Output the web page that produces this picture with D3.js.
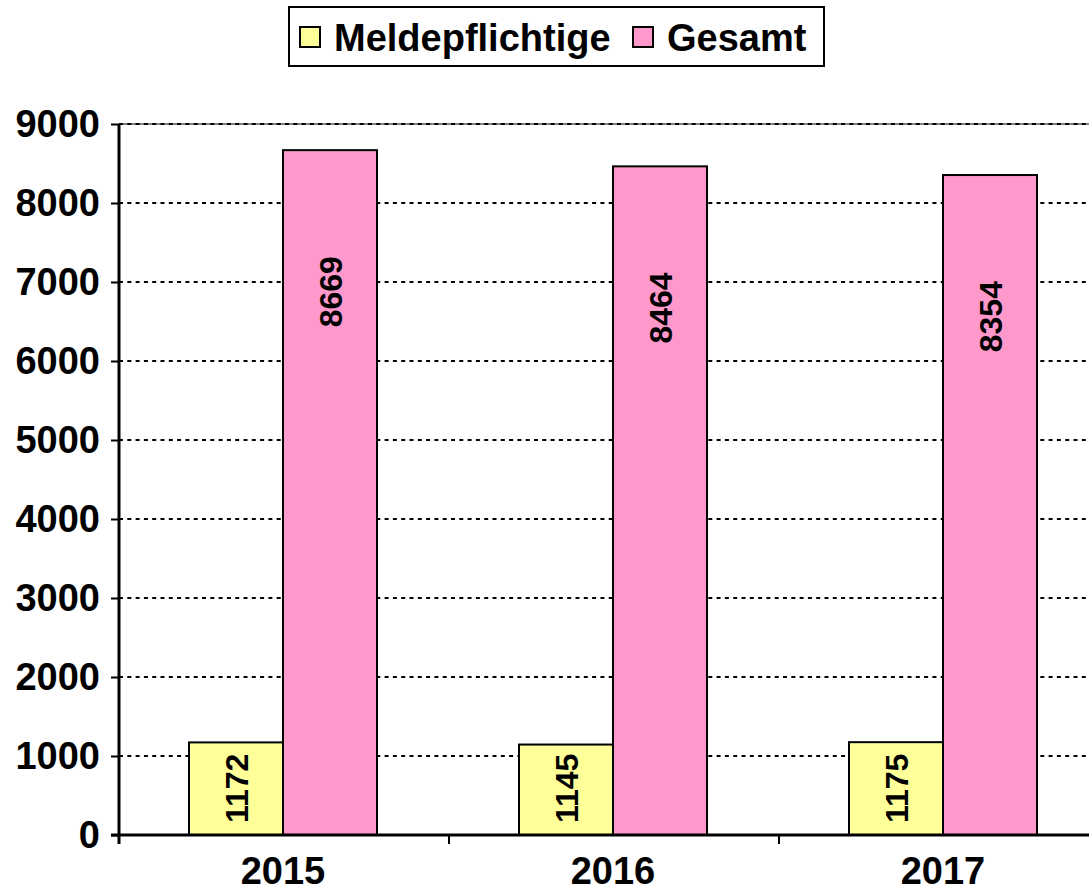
<!DOCTYPE html>
<html>
<head>
<meta charset="utf-8">
<script src="https://cdn.jsdelivr.net/npm/d3@7"></script>
<style>
  body { margin: 0; background: #fff; }
  text { font-family: "Liberation Sans", Arial, sans-serif; font-weight: bold; fill: #000; }
</style>
</head>
<body>
<div class="chart"></div>
<script>
const years = ['2015', '2016', '2017'];
const seriesNames = ['Meldepflichtige', 'Gesamt'];
const meldepflichtige = [1172, 1145, 1175];
const gesamt = [8669, 8464, 8354];
const yTicks = [0, 1000, 2000, 3000, 4000, 5000, 6000, 7000, 8000, 9000];
const colors = ['#FFFF99', '#FF99CC'];

const width = 1089, height = 895;
const margin = { top: 124, right: -20, bottom: 60, left: 119 };

const svg = d3.select('.chart')
  .append('svg')
  .attr('width', width)
  .attr('height', height);

const x0 = d3.scaleBand()
  .domain(years)
  .range([margin.left, width - margin.right]);

const x1 = d3.scaleBand()
  .domain(seriesNames)
  .range([70, x0.bandwidth() - 72]);

const y = d3.scaleLinear()
  .domain([0, 9000])
  .range([height - margin.bottom, margin.top]);

// gridlines
const grid = svg.append('g');
grid.append('line')
  .attr('x1', margin.left).attr('x2', width)
  .attr('y1', y(9000)).attr('y2', y(9000))
  .attr('stroke', '#808080').attr('stroke-width', 2);
grid.selectAll('line.g')
  .data(yTicks.filter(d => d > 0))
  .join('line')
  .attr('class', 'g')
  .attr('x1', margin.left).attr('x2', width)
  .attr('y1', d => y(d)).attr('y2', d => y(d))
  .attr('stroke', '#000')
  .attr('stroke-width', 2)
  .attr('stroke-dasharray', '4,4.3');

// bars
const rows = years.map((yr, i) => ({ year: yr, values: [meldepflichtige[i], gesamt[i]] }));

const groups = svg.append('g')
  .selectAll('g')
  .data(rows)
  .join('g')
  .attr('transform', d => `translate(${x0(d.year)},0)`);

groups.selectAll('rect')
  .data(d => d.values.map((v, k) => ({ key: seriesNames[k], k, v })))
  .join('rect')
  .attr('x', d => x1(d.key))
  .attr('width', x1.bandwidth())
  .attr('y', d => y(d.v))
  .attr('height', d => y(0) - y(d.v))
  .attr('fill', d => colors[d.k])
  .attr('stroke', '#000')
  .attr('stroke-width', 2);

// value labels, rotated
groups.selectAll('text.val')
  .data(d => d.values.map((v, k) => ({ key: seriesNames[k], k, v })))
  .join('text')
  .attr('class', 'val')
  .attr('font-size', 32)
  .attr('text-anchor', d => d.k === 0 ? 'start' : 'end')
  .attr('dy', '0.36em')
  .attr('transform', d => {
    const cx = x1(d.key) + x1.bandwidth() / 2;
    const cy = d.k === 0 ? y(0) - 12 : y(d.v) + 106;
    return `translate(${cx},${cy}) rotate(-90)`;
  })
  .text(d => d.v);

// axes
const yAxis = svg.append('g')
  .attr('transform', `translate(${margin.left},0)`)
  .call(d3.axisLeft(y).tickValues(yTicks).tickFormat(d3.format('d')).tickSize(8).tickPadding(11));
yAxis.select('.domain').attr('stroke-width', 3).attr('d', `M0,${y(9000)}V${y(0) + 9}`);
yAxis.selectAll('.tick line').attr('stroke-width', 2);
yAxis.selectAll('.tick text')
  .attr('font-size', 38)
  .attr('font-family', '"Liberation Sans", Arial, sans-serif')
  .attr('font-weight', 'bold');

const xAxis = svg.append('g')
  .attr('transform', `translate(0,${y(0)})`);
xAxis.append('line')
  .attr('x1', margin.left - 8).attr('x2', width)
  .attr('stroke', '#000').attr('stroke-width', 3);
xAxis.selectAll('line.tk')
  .data(years)
  .join('line')
  .attr('class', 'tk')
  .attr('x1', d => x0(d)).attr('x2', d => x0(d))
  .attr('y1', 0).attr('y2', 9)
  .attr('stroke', '#000').attr('stroke-width', 2);
xAxis.selectAll('text')
  .data(years)
  .join('text')
  .attr('x', d => x0(d) + x1('Gesamt'))
  .attr('y', 49)
  .attr('text-anchor', 'middle')
  .attr('font-size', 38)
  .text(d => d);

// legend
const legend = svg.append('g');
legend.append('rect')
  .attr('x', 289).attr('y', 7)
  .attr('width', 535).attr('height', 59)
  .attr('fill', '#fff').attr('stroke', '#000').attr('stroke-width', 2);
const legendX = [300, 633];
const items = legend.selectAll('g')
  .data(seriesNames)
  .join('g')
  .attr('transform', (d, i) => `translate(${legendX[i]},27)`);
items.append('rect')
  .attr('width', 20).attr('height', 20)
  .attr('fill', (d, i) => colors[i])
  .attr('stroke', '#000').attr('stroke-width', 2);
items.append('text')
  .attr('x', 34).attr('y', 10)
  .attr('dy', '0.36em')
  .attr('font-size', 38)
  .text(d => d);
</script>
</body>
</html>
